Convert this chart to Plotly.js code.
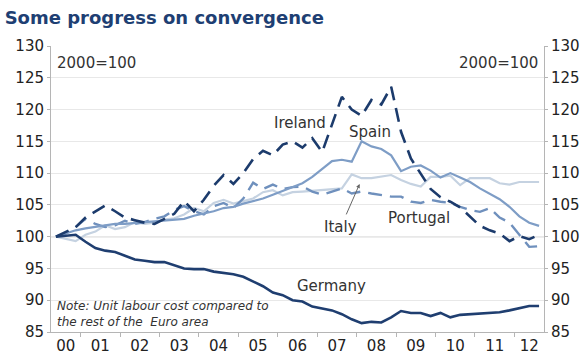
<!DOCTYPE html>
<html><head><meta charset="utf-8">
<script src="https://cdn.plot.ly/plotly-3.0.1.min.js"></script>
<style>html,body{margin:0;padding:0;background:#fff}#c{width:582px;height:361px}</style>
</head><body><div id="c"></div>
<script>
// quarterly index: 2000Q2 .. 2012Q3 (50 quarters)
var quarters = [];
for (var q = 0; q < 50; q++) quarters.push(q);
var yearLabels = ['00','01','02','03','04','05','06','07','08','09','10','11','12'];
var yearCenters = [1,4.5,8.5,12.5,16.5,20.5,24.5,28.5,32.5,36.5,40.5,44.5,48];
var yearBounds = [2.5,6.5,10.5,14.5,18.5,22.5,26.5,30.5,34.5,38.5,42.5,46.5];

var ireland = [100,100.8,101.5,103.0,104.0,104.9,104.0,103.0,102.6,102.2,
  102.0,102.8,103.6,105.6,104.0,105.8,108.0,109.7,108.3,110.0,
  112.2,113.5,112.8,114.5,115.0,114.0,115.5,113.3,117.5,122.0,
  120.0,119.0,121.5,120.8,123.6,116.5,112.3,109.8,107.5,106.2,
  105.5,104.6,103.2,101.7,101.0,100.5,99.3,100.1,99.6,100.3];
var spain = [100,100.5,101.0,101.3,101.5,101.8,102.0,102.0,102.2,102.3,
  102.4,102.5,102.6,102.8,103.3,103.6,104.0,104.5,104.7,105.2,
  105.6,106.0,106.6,107.2,107.8,108.4,109.4,110.6,111.9,112.1,
  111.8,115.0,114.2,113.8,112.8,110.3,111.0,111.2,110.4,109.3,
  110.0,109.3,108.6,107.6,106.8,105.9,104.7,103.2,102.2,101.7];
var italy = [100,99.6,99.3,100.3,100.8,101.8,101.2,101.5,102.3,102.0,
  102.2,102.7,102.9,103.5,104.5,104.0,105.3,105.8,105.2,105.6,
  106.0,107.0,107.3,106.5,107.0,107.1,107.2,107.3,107.5,107.6,
  109.8,109.2,109.2,109.4,109.7,108.9,108.3,107.9,109.4,109.4,
  109.6,108.1,109.2,109.2,109.2,108.4,108.2,108.6,108.6,108.6];
var portugal = [100,100.5,101.5,102.8,102.0,101.5,101.8,102.5,102.0,102.3,
  102.8,103.2,104.2,104.8,104.0,103.5,104.8,105.3,104.5,106.0,
  108.5,107.5,108.2,107.5,107.8,107.9,107.1,106.6,107.1,107.6,
  106.8,107.1,106.8,106.5,106.3,106.3,105.5,105.3,105.8,105.5,
  105.3,104.7,104.2,103.9,104.5,103.0,102.2,100.3,98.4,98.5];
var germany = [100,100.2,100.3,99.2,98.2,97.8,97.6,97.0,96.4,96.2,
  96.0,96.0,95.5,95.0,94.9,94.9,94.5,94.3,94.1,93.7,
  93.0,92.2,91.2,90.8,90.0,89.8,89.0,88.7,88.4,87.8,
  87.0,86.4,86.6,86.5,87.3,88.3,88.0,88.0,87.5,88.0,
  87.3,87.7,87.8,87.8,87.9,88.1,88.4,88.7,89.1,89.1];

var seriesNames = ['Italy','Portugal','Spain','Ireland','Germany'];
var seriesData = [italy, portugal, spain, ireland, germany];
var seriesColors = ['#c5d2e1','#6f90bd','#7e9dc6','#1c3b6c','#1f3e70'];
var seriesDash = ['solid','dash','solid','dash','solid'];
var seriesWidth = [2.2,2.4,2.2,2.6,2.6];

var traces = seriesNames.map(function(n,k){
  return {x: quarters, y: seriesData[k], type:'scatter', mode:'lines', name:n,
    line:{color:seriesColors[k], width:seriesWidth[k], dash: seriesDash[k]==='dash' ? '14px,8px' : 'solid'},
    hoverinfo:'skip', showlegend:false};
});
traces.push({x:[0], y:[null], xaxis:'x', yaxis:'y2', type:'scatter', mode:'lines', showlegend:false, hoverinfo:'skip'});

var font = 'DejaVu Sans, Verdana, sans-serif';
var lblFont = {family:font, size:15, color:'#333'};
var layout = {
  width:582, height:361,
  margin:{l:51, r:38, t:46, b:29},
  paper_bgcolor:'#fff', plot_bgcolor:'#fff',
  title:{text:'Some progress on convergence', font:{family:font, size:18, color:'#1e3f73', weight:'bold'},
    x:0.008, xanchor:'left', xref:'container', y:0.95, yanchor:'middle', yref:'container'},
  xaxis:{range:[-0.5,49.5], tickmode:'array', tickvals:yearCenters, ticktext:yearLabels, ticks:'',
    showgrid:false, zeroline:false, showline:true, linecolor:'#b5b5b5', linewidth:1,
    tickfont:{family:font, size:15, color:'#222'},
    minor:{tickmode:'array', tickvals:yearBounds, ticks:'outside', ticklen:4, tickcolor:'#b5b5b5', showgrid:false}},
  yaxis:{range:[85,130], dtick:5, tick0:85, showgrid:true, gridcolor:'#e8e8e8', zeroline:false,
    showline:true, linecolor:'#b5b5b5', ticks:'outside', ticklen:3, tickcolor:'#b5b5b5',
    tickfont:{family:font, size:15, color:'#222'}},
  yaxis2:{range:[85,130], dtick:5, tick0:85, overlaying:'y', side:'right', showgrid:false, zeroline:false,
    showline:true, linecolor:'#b5b5b5', ticks:'outside', ticklen:3, tickcolor:'#b5b5b5',
    tickfont:{family:font, size:15, color:'#222'}},
  shapes:[{type:'line', xref:'paper', x0:0, x1:1, yref:'y', y0:100, y1:100, line:{color:'#8c8c8c', width:1}, layer:'below'}],
  annotations:[
    {text:'2000=100', xref:'paper', yref:'paper', x:0.008, y:0.98, xanchor:'left', yanchor:'top', showarrow:false, font:lblFont},
    {text:'2000=100', xref:'paper', yref:'paper', x:0.992, y:0.98, xanchor:'right', yanchor:'top', showarrow:false, font:lblFont},
    {text:'Ireland', x:24.75, y:117.9, showarrow:false, font:lblFont},
    {text:'Spain', x:31.85, y:116.5, showarrow:false, font:lblFont},
    {text:'Italy', x:28.9, y:101.5, showarrow:false, font:lblFont},
    {text:'Portugal', x:36.8, y:102.9, showarrow:false, font:lblFont},
    {text:'Germany', x:27.9, y:92.2, showarrow:false, font:lblFont},
    {text:'', x:30.8, y:108.3, ax:-14, ay:32, showarrow:true, arrowhead:2, arrowsize:0.8, arrowwidth:1, arrowcolor:'#666'},
    {text:'<i>Note: Unit labour cost compared to<br>the rest of the  Euro area</i>', xref:'paper', yref:'paper', x:0.008, y:0.005,
      xanchor:'left', yanchor:'bottom', align:'left', showarrow:false, font:{family:font, size:12, color:'#333'}}
  ]
};
Plotly.newPlot('c', traces, layout, {staticPlot:true, displayModeBar:false});
</script></body></html>
